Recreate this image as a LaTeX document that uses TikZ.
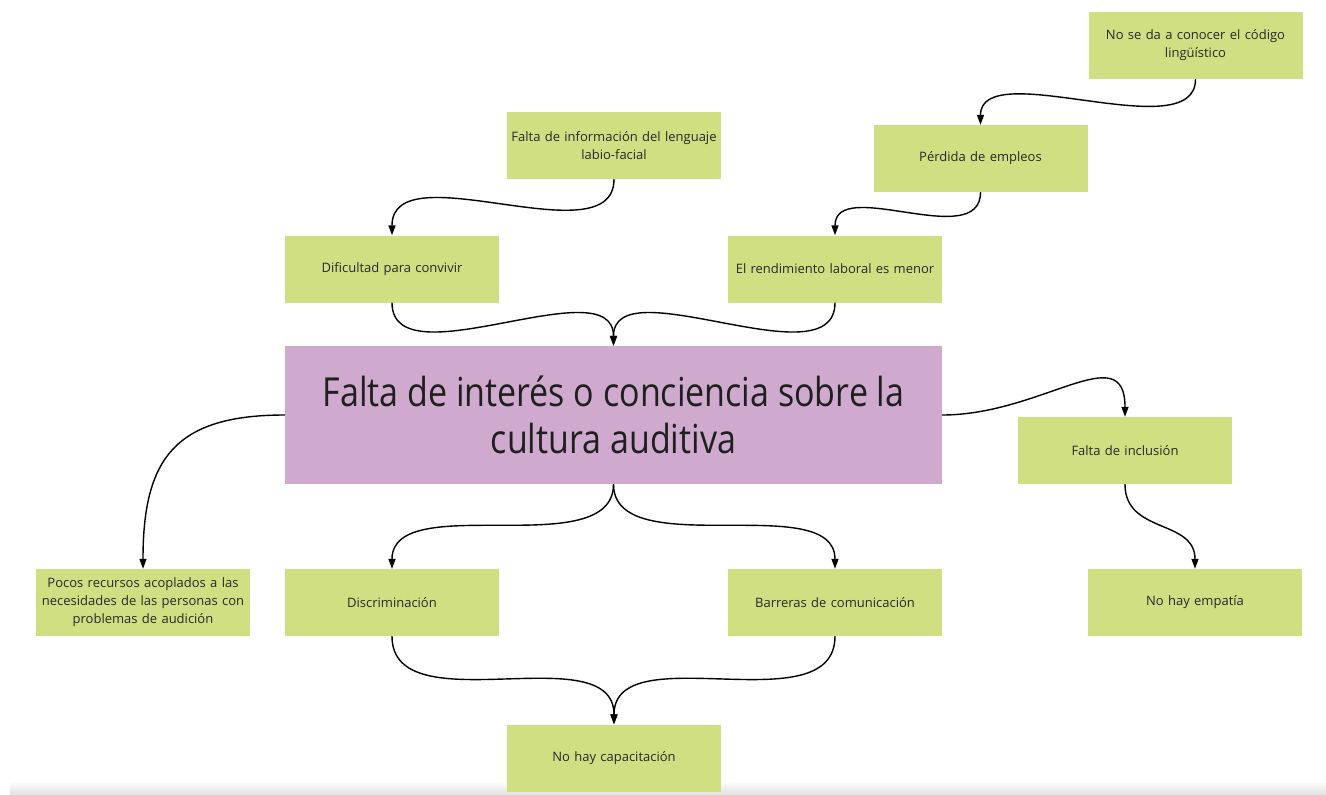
\documentclass[tikz,border=0pt]{standalone}
\usepackage{fontspec}
\setmainfont{Open Sans}
\newfontfamily\mainfnt{Open Sans}[FakeStretch=0.85]
\usetikzlibrary{arrows.meta}
\definecolor{boxgreen}{RGB}{208,223,130}
\definecolor{boxpurple}{RGB}{207,170,206}
\definecolor{txt}{RGB}{40,40,40}
\begin{document}
\begin{tikzpicture}[x=1pt,y=-1pt,
  gbox/.style={fill=boxgreen, draw=none, minimum width=214pt, minimum height=67pt,
    inner sep=2pt, align=center, text width=206pt,
    font=\fontsize{13}{18}\selectfont, text=txt},
  mainbox/.style={fill=boxpurple, draw=none, minimum width=657pt, minimum height=138pt,
    inner sep=2pt, align=center, font=\mainfnt\fontsize{40}{47}\selectfont, text=black!88},
  conn/.style={draw=black, line width=1.4pt, -{Triangle[length=10pt,width=7pt]}},
]
\useasboundingbox (0,0) rectangle (1326,795);
\shade[top color=white, bottom color=black!12] (10,781) rectangle (1326,795);

\node[gbox] (info) at (614,145.5) {Falta de información del lenguaje\\labio-facial};
\node[gbox] (dif) at (392,269) {Dificultad para convivir};
\node[gbox] (noseda) at (1195.5,45.5) {No se da a conocer el código\\lingüístico};
\node[gbox] (perd) at (980.5,158.5) {Pérdida de empleos};
\node[gbox] (rend) at (835,269) {El rendimiento laboral es menor};
\node[mainbox] (main) at (613.5,415) {Falta de interés o conciencia sobre la\\cultura auditiva};
\node[gbox] (incl) at (1125,450.5) {Falta de inclusión};
\node[gbox] (emp) at (1195,602.5) {No hay empatía};
\node[gbox] (pocos) at (143,602.5) {Pocos recursos acoplados a las\\necesidades de las personas con\\problemas de audición};
\node[gbox] (disc) at (392,602.5) {Discriminación};
\node[gbox] (barr) at (835,602.5) {Barreras de comunicación};
\node[gbox] (cap) at (614,758) {No hay capacitación};

\draw[conn] (info.south) .. controls +(0,80) and +(0,-85) .. (dif.north);
\draw[conn] (noseda.south) .. controls +(0,70) and +(0,-70) .. (perd.north);
\draw[conn] (perd.south) .. controls +(0,60) and +(0,-60) .. (rend.north);
\draw[conn] (dif.south) .. controls +(0,80) and +(0,-80) .. (main.north);
\draw[conn] (rend.south) .. controls +(0,80) and +(0,-80) .. (main.north);
\draw[conn] (main.west) .. controls +(-110,0) and +(0,-110) .. (pocos.north);
\draw[conn] (main.east) .. controls +(100,0) and +(0,-80) .. (incl.north);
\draw[conn] (incl.south) .. controls +(0,50) and +(0,-50) .. (emp.north);
\draw[conn] (main.south) .. controls +(0,80) and +(0,-80) .. (disc.north);
\draw[conn] (main.south) .. controls +(0,80) and +(0,-80) .. (barr.north);
\draw[conn] (disc.south) .. controls +(0,90) and +(0,-90) .. (cap.north);
\draw[conn] (barr.south) .. controls +(0,90) and +(0,-90) .. (cap.north);
\end{tikzpicture}
\end{document}
